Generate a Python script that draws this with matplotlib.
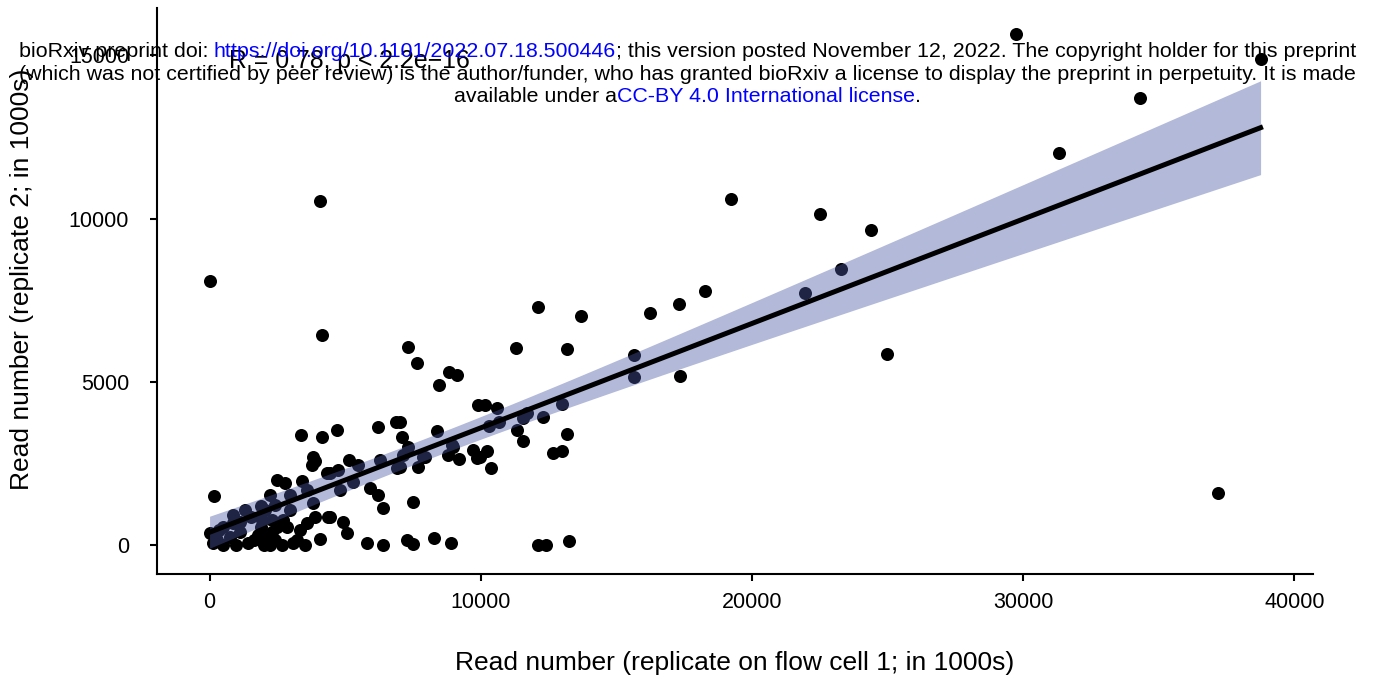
import matplotlib.pyplot as plt
import numpy as np
from matplotlib.offsetbox import TextArea, HPacker, AnnotationBbox

# read numbers (in 1000s) for each sample, replicate 1 (flow cell 1) and replicate 2
rep1 = [29740, 38750, 34300, 31320, 19230, 22500, 24380, 4080, 0, 4150,
        12100, 13710, 16250, 17320, 18270, 21950, 23270, 24960, 15660, 15660,
        17350, 11290, 13160, 7320, 7650, 8820, 9120, 8460, 10150, 10590,
        10290, 10660, 11320, 11540, 11690, 11540, 12280, 13010, 13160, 12650,
        13010, 7020, 7100, 7320, 8380, 8790, 8970, 9190, 9710, 9960,
        10220, 10370, 7020, 7680, 7870, 7500, 7280, 7500, 8270, 8900,
        12100, 12390, 13240, 150, 3380, 4150, 4710, 6210, 6880, 3820,
        3900, 3790, 5150, 5480, 4450, 4740, 6290, 6910, 2500, 2790,
        3420, 2240, 2980, 1880, 3600, 3820, 4820, 5290, 5920, 6210,
        6400, 3600, 3900, 4380, 4930, 5070, 4080, 5810, 6400, 0,
        110, 480, 880, 1140, 1510, 1880, 2320, 2320, 2500, 2720,
        2870, 510, 960, 1400, 1620, 1990, 2240, 2430, 2680, 3090,
        3530, 290, 770, 2130, 7130, 7940, 9890, 4340, 9850, 8930,
        4450, 2060, 2430, 2980, 1800, 1320, 850, 330, 3350, 3240,
        1950, 1140, 37170]
rep2 = [15660, 14890, 13700, 12020, 10610, 10150, 9660, 10550, 8070, 6420,
        7280, 7000, 7090, 7370, 7770, 7710, 8440, 5840, 5810, 5140,
        5170, 6020, 5990, 6060, 5570, 5290, 5200, 4890, 4280, 4190,
        3640, 3760, 3520, 3180, 4040, 3880, 3910, 4310, 3390, 2810,
        2870, 3760, 3300, 3000, 3490, 2750, 3000, 2630, 2910, 2690,
        2870, 2350, 2390, 2390, 2690, 1310, 150, 30, 210, 60,
        0, 0, 120, 1500, 3360, 3300, 3520, 3610, 3760, 2690,
        2570, 2450, 2600, 2450, 2200, 2290, 2600, 2350, 1990, 1900,
        1960, 1530, 1530, 1190, 1680, 1280, 1680, 1930, 1740, 1530,
        1130, 670, 860, 860, 700, 370, 180, 60, 0, 370,
        60, 550, 670, 400, 860, 550, 760, 400, 550, 760,
        550, 0, 0, 60, 150, 0, 0, 150, 0, 60,
        0, 150, 240, 240, 2750, 2690, 4280, 2200, 2660, 3060,
        860, 1070, 1220, 1070, 310, 1070, 920, 460, 460, 150,
        760, 700, 1590]

stat_label = 'R = 0.78, p < 2.2e\u221216'

x = np.array(rep1, dtype=float)
y = np.array(rep2, dtype=float)

# linear fit with 95% confidence band
slope, intercept = np.polyfit(x, y, 1)
n = len(x)
xs = np.linspace(x.min(), x.max(), 200)
fit = intercept + slope * xs
resid = y - (intercept + slope * x)
s_err = np.sqrt(np.sum(resid ** 2) / (n - 2))
se = s_err * np.sqrt(1 / n + (xs - x.mean()) ** 2 / np.sum((x - x.mean()) ** 2))
ci = 1.976 * se

plt.rcParams['font.family'] = ['Liberation Sans', 'DejaVu Sans']

fig = plt.figure(figsize=(13.75, 6.82), dpi=100)
ax = fig.add_axes([0.1142, 0.1584, 0.8408, 0.8296])

ax.scatter(x, y, s=88, color='black', linewidths=0, zorder=2)
ax.fill_between(xs, fit - ci, fit + ci, color='#4a58a5', alpha=0.42, linewidth=0, zorder=3)
ax.plot(xs, fit, color='black', lw=3.6, zorder=4)

ax.margins(0.05)
ax.set_xticks([0, 10000, 20000, 30000, 40000])
ax.set_yticks([0, 5000, 10000, 15000])
for side in ['top', 'right']:
    ax.spines[side].set_visible(False)
for side in ['left', 'bottom']:
    ax.spines[side].set_linewidth(1.5)
ax.tick_params(labelsize=15.5, width=1.5, length=5, colors='black')
ax.tick_params(axis='x', pad=8)
ax.tick_params(axis='y', pad=15)

ax.set_xlabel('Read number (replicate on flow cell 1; in 1000s)', fontsize=19, labelpad=27)
ax.set_ylabel('Read number (replicate 2; in 1000s)', fontsize=19)
ax.yaxis.set_label_coords(-0.106, 0.52)

ax.text(700, 14830, stat_label, fontsize=17.9, va='center')

# bioRxiv watermark
fs = 15.4
blue = '#0000ff'
lines = [
    [('bioRxiv preprint doi: ', 'black'), ('https://doi.org/10.1101/2022.07.18.500446', blue),
     ('; this version posted November 12, 2022. The copyright holder for this preprint', 'black')],
    [('(which was not certified by peer review) is the author/funder, who has granted bioRxiv '
      'a license to display the preprint in perpetuity. It is made', 'black')],
    [('available under a', 'black'), ('CC-BY 4.0 International license', blue), ('.', 'black')],
]
ypos = [0.924, 0.891, 0.858]
for parts, yy in zip(lines, ypos):
    boxes = [TextArea(t, textprops=dict(color=c, fontsize=fs)) for t, c in parts]
    pack = HPacker(children=boxes, align='baseline', pad=0, sep=0)
    ab = AnnotationBbox(pack, (0.5, yy), xycoords='figure fraction', frameon=False,
                        box_alignment=(0.5, 0.5), pad=0)
    fig.add_artist(ab)

fig.savefig('out.png', dpi=100)
